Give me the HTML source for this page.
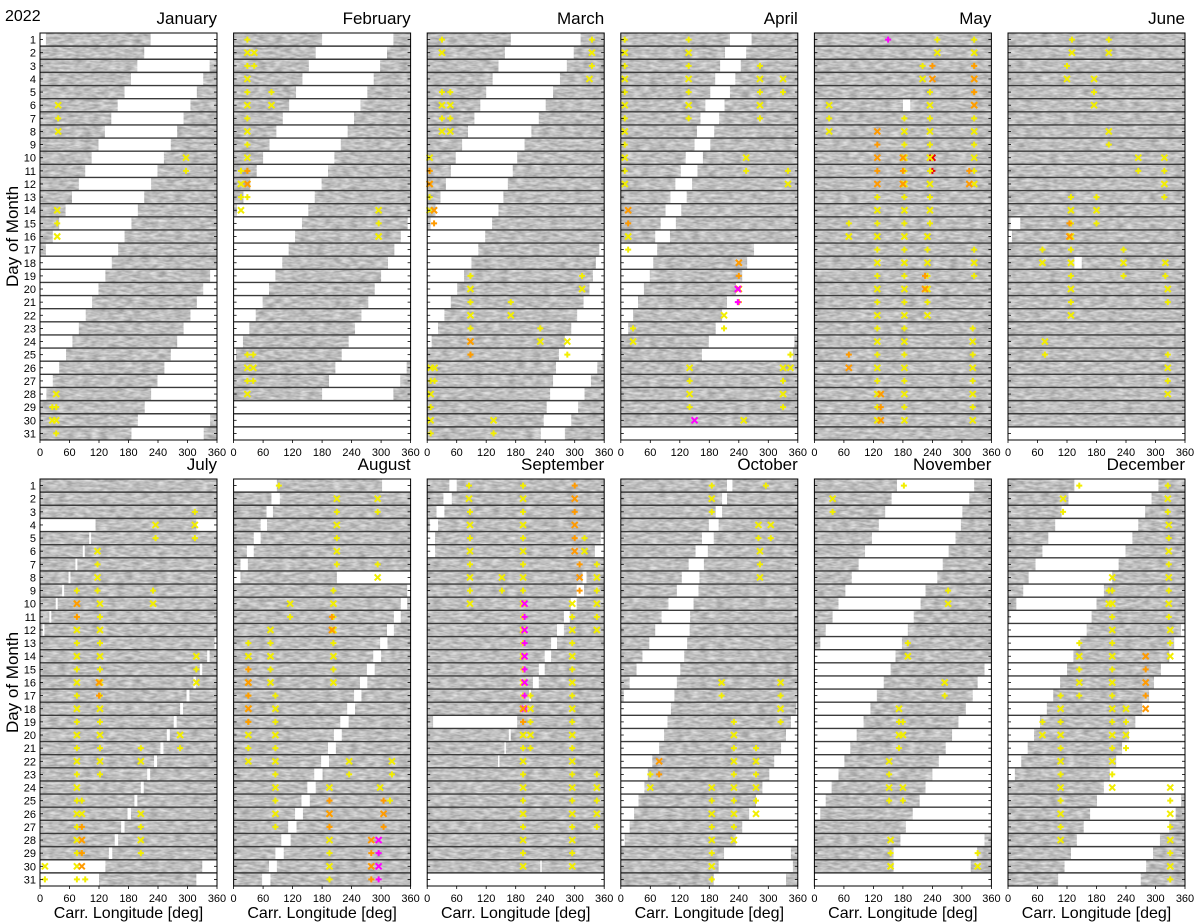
<!DOCTYPE html>
<html><head><meta charset="utf-8"><style>
html,body{margin:0;padding:0;background:#fff;}
svg{display:block;font-family:"Liberation Sans",sans-serif;}
</style></head><body>
<svg id="chart" width="1200" height="923" viewBox="0 0 1200 923" xmlns="http://www.w3.org/2000/svg">
<defs>
<filter id="tex" x="0" y="0" width="100%" height="100%" color-interpolation-filters="sRGB">
<feTurbulence type="fractalNoise" baseFrequency="0.12 0.4" numOctaves="2" seed="3" result="n"/>
<feColorMatrix in="n" type="matrix" values="0.4 0 0 0 0.55  0.4 0 0 0 0.55  0.4 0 0 0 0.55  0 0 0 0 1" result="g"/>
<feComposite in="g" in2="SourceGraphic" operator="in"/>
</filter>
</defs>
<text x="5" y="21" font-size="16">2022</text>
</svg>
<script>
const monthNames=["January","February","March","April","May","June","July","August","September","October","November","December"];
const xTicks=[0,60,120,180,240,300,360];
const N=null;
const janGapStart=[225,212,198,185,172,158,145,132,119,105,92,79,65,52,39,26,12,359,346,332,319,306,292,279,266,253,239,226,213,199,186];
const janGapEnd=[12,359,345,332,319,306,292,279,266,252,239,226,212,199,186,172,159,146,133,119,106,93,79,66,53,39,26,13,360,346,333];
const febGapStart=[180,167,153,140,127,113,100,87,73,60,47,34,20,7,354,340,327,314,300,287,274,260,247,234,220,207,194,180,0,0,0];
const febGapEnd=[325,312,298,285,272,258,245,232,218,205,192,179,165,152,139,125,112,99,85,72,59,45,32,19,5,352,339,325,360,360,360];
const marGapStart=[170,158,145,133,120,108,96,83,71,58,48,38,27,17,7,357,350,343,337,330,318,305,293,280,268,262,256,250,243,237,231];
const marGapEnd=[312,298,284,270,256,241,227,212,198,183,174,164,155,145,132,118,104,90,75,61,48,35,22,9,356,346,333,320,307,293,280];
const aprGapStart=[222,212,202,192,182,172,162,155,150,132,122,111,101,91,81,70,271,257,247,234,216,206,193,179,165,N,N,N,N,N,0];
const aprGapEnd=[266,255,244,233,222,211,200,190,182,167,156,145,134,123,112,100,74,66,59,47,35,25,15,353,350,N,N,N,N,N,360];
const mayGapStart=[N,N,N,N,N,180,N,N,N,N,N,N,N,N,N,N,N,N,N,N,N,N,N,N,N,N,N,N,N,N,N];
const mayGapEnd=[N,N,N,N,N,195,N,N,N,N,N,N,N,N,N,N,N,N,N,N,N,N,N,N,N,N,N,N,N,N,N];
const junGapStart=[N,N,N,N,N,N,N,N,N,N,N,N,N,N,5,0,N,135,N,N,N,N,N,N,N,N,N,N,N,N,0];
const junGapEnd=[N,N,N,N,N,N,N,N,N,N,N,N,N,N,25,8,N,150,N,N,N,N,N,N,N,N,N,N,N,N,360];
const julGapStart=[N,N,N,318,100,87,72,58,45,32,19,5,355,340,325,312,298,285,272,258,245,232,218,205,192,178,165,152,140,330,318];
const julGapEnd=[N,N,N,113,104,91,76,62,49,36,23,9,359,345,330,317,304,291,278,264,251,238,224,211,198,185,172,159,147,133,120];
const augGapStart=[302,77,67,55,41,27,14,210,353,340,326,312,298,284,271,257,245,231,217,204,192,178,164,150,138,125,111,97,85,72,58];
const augGapEnd=[88,94,80,68,55,41,29,14,360,353,340,326,313,300,287,272,260,247,234,220,208,194,181,167,155,141,128,116,102,88,75];
const sepGapStart=[45,33,19,5,353,341,N,316,304,292,278,264,252,239,227,215,207,N,12,166,157,144,N,N,N,N,N,N,N,230,0];
const sepGapEnd=[60,50,35,22,16,16,N,324,319,304,290,278,264,252,239,227,211,N,183,170,160,147,N,N,N,N,N,N,N,233,360];
const octGapStart=[216,206,193,179,165,152,138,124,114,97,83,70,58,44,32,18,6,357,346,336,326,312,302,288,275,261,247,234,210,199,189];
const octGapEnd=[227,216,206,199,189,177,169,160,158,148,141,140,135,129,121,114,109,102,95,88,78,64,55,48,36,27,18,8,346,350,336];
const novGapStart=[168,157,144,131,117,103,90,76,63,49,37,23,12,0,346,332,322,308,293,280,267,253,240,226,214,200,186,175,161,161,0];
const novGapEnd=[325,315,301,298,287,273,261,250,226,216,202,190,178,165,155,141,127,114,100,86,73,61,49,35,23,12,360,346,331,318,360];
const decGapStart=[135,123,109,96,82,70,56,42,31,17,3,352,338,328,311,297,287,273,259,246,232,220,207,195,181,167,154,140,128,115,102];
const decGapEnd=[306,292,279,265,253,239,225,212,195,180,170,160,147,133,120,106,92,79,65,53,40,27,14,360,352,341,328,309,295,281,270];
const gapStarts=[janGapStart,febGapStart,marGapStart,aprGapStart,mayGapStart,junGapStart,julGapStart,augGapStart,sepGapStart,octGapStart,novGapStart,decGapStart];
const gapEnds=[janGapEnd,febGapEnd,marGapEnd,aprGapEnd,mayGapEnd,junGapEnd,julGapEnd,augGapEnd,sepGapEnd,octGapEnd,novGapEnd,decGapEnd];
// feature tracks: [firstDay, lastDay, longitude, colour]
const janTracks=[[6,8,37,'y'],[10,11,297,'y'],[14,16,35,'y'],[28,31,33,'y'],[29,30,25,'y']];
const febTracks=[[1,13,28,'y'],[2,3,42,'y'],[5,6,77,'y'],[11,12,28,'o'],[11,14,15,'y'],[14,16,295,'y'],[25,28,28,'y'],[25,27,40,'y']];
const marTracks=[[1,3,335,'y'],[1,2,30,'y'],[4,4,330,'y'],[5,8,30,'y'],[5,8,47,'y'],[10,14,5,'y'],[11,12,5,'o'],[14,15,14,'o'],[19,25,88,'y'],[24,25,88,'o'],[19,20,315,'y'],[21,22,170,'y'],[23,24,230,'y'],[24,25,285,'y'],[26,31,7,'y'],[26,27,15,'y'],[30,31,135,'y']];
const aprTracks=[[1,12,8,'y'],[14,15,15,'o'],[16,17,15,'y'],[1,7,138,'y'],[3,7,283,'y'],[4,5,330,'y'],[10,11,255,'y'],[11,12,340,'y'],[18,21,240,'o'],[20,21,238,'m'],[22,23,210,'y'],[23,24,25,'y'],[25,26,345,'y'],[26,29,140,'y'],[26,29,330,'y'],[30,30,150,'m'],[30,30,250,'y']];
const mayTracks=[[1,1,150,'m'],[1,2,250,'y'],[3,4,240,'o'],[10,11,240,'r'],[3,4,220,'y'],[5,15,235,'y'],[16,22,230,'y'],[1,12,325,'y'],[3,6,325,'o'],[11,12,315,'o'],[6,8,30,'y'],[8,12,128,'o'],[13,30,128,'y'],[28,30,135,'o'],[7,30,183,'y'],[10,12,180,'o'],[15,16,70,'y'],[25,26,70,'o'],[17,19,325,'y'],[23,30,322,'y'],[19,20,225,'o']];
const junTracks=[[1,2,130,'y'],[1,2,205,'y'],[3,4,120,'y'],[4,6,175,'y'],[8,9,205,'y'],[10,11,265,'y'],[10,13,318,'y'],[13,15,180,'y'],[13,22,128,'y'],[15,16,125,'o'],[17,18,70,'y'],[17,19,235,'y'],[18,19,320,'y'],[20,21,325,'y'],[24,25,75,'y'],[25,28,325,'y']];
const julTracks=[[3,5,315,'y'],[4,5,235,'y'],[6,9,117,'y'],[9,31,75,'y'],[10,11,75,'o'],[10,23,122,'y'],[16,17,120,'o'],[9,10,230,'y'],[14,16,318,'y'],[20,21,285,'y'],[21,22,205,'y'],[25,29,85,'y'],[27,30,85,'o'],[26,29,205,'y'],[31,31,92,'y'],[30,31,10,'y']];
const augTracks=[[1,1,92,'y'],[2,3,293,'y'],[2,7,210,'y'],[7,8,293,'y'],[9,16,203,'y'],[11,12,200,'o'],[10,11,115,'y'],[12,16,75,'y'],[13,22,30,'y'],[15,19,30,'o'],[17,27,85,'y'],[24,31,195,'y'],[25,27,195,'o'],[24,24,298,'y'],[25,27,305,'o'],[25,25,318,'y'],[28,31,295,'m'],[28,31,280,'o'],[22,23,235,'y'],[22,23,322,'y']];
const sepTracks=[[1,30,195,'y'],[10,18,198,'m'],[1,6,300,'o'],[7,9,310,'o'],[10,30,295,'y'],[1,2,85,'y'],[3,10,87,'y'],[7,12,345,'y'],[5,6,320,'y'],[23,27,345,'y'],[17,21,210,'y'],[8,9,152,'y'],[18,19,195,'o']];
const octTracks=[[1,3,185,'y'],[1,1,295,'y'],[4,5,280,'y'],[4,5,305,'y'],[6,8,283,'y'],[16,17,205,'y'],[16,19,325,'y'],[19,26,230,'y'],[21,26,275,'y'],[22,23,78,'o'],[23,24,60,'y'],[24,31,185,'y'],[27,28,230,'y']];
const novTracks=[[1,1,182,'y'],[2,3,37,'y'],[9,10,272,'y'],[13,14,190,'y'],[16,17,265,'y'],[18,21,172,'y'],[19,20,180,'y'],[22,25,152,'y'],[24,25,180,'y'],[28,30,155,'y'],[29,30,332,'y']];
const decTracks=[[1,3,325,'y'],[1,1,145,'y'],[2,3,112,'y'],[4,11,327,'y'],[8,24,212,'y'],[9,10,205,'y'],[12,14,330,'y'],[14,18,280,'o'],[13,17,145,'y'],[17,28,107,'y'],[19,20,70,'y'],[18,21,240,'y'],[24,31,330,'y']];
const allTracks=[janTracks,febTracks,marTracks,aprTracks,mayTracks,junTracks,julTracks,augTracks,sepTracks,octTracks,novTracks,decTracks];

const NS="http://www.w3.org/2000/svg";
const svg=document.getElementById('chart');
const colors={y:'#f2ee00',o:'#ff9a00',m:'#ff00ff',r:'#ee0000'};
const PW=177, colStep=193.6, left0=40;
const rowTop=[33,479], PH=407;
function mk(tag,attrs,parent){const e=document.createElementNS(NS,tag);for(const k in attrs)e.setAttribute(k,attrs[k]);(parent||svg).appendChild(e);return e;}

for(let m=0;m<12;m++){
  const col=m%6,row=Math.floor(m/6);
  const x0=left0+col*colStep, y0=rowTop[row];
  const xs=v=>x0+v/360*PW;
  const rh=PH/31;
  const ys=d=>y0+(d-1)*rh;
  const g=mk('g',{});
  
  
  mk('rect',{x:x0,y:y0,width:PW,height:PH,fill:'#bfbfbf'},g);
  const gray=mk('g',{filter:'url(#tex)'},g);
  mk('rect',{x:x0,y:y0,width:PW,height:PH,fill:'#888'},gray);
  const wg=mk('g',{},g);
  for(let d=1;d<=31;d++){
    const s=gapStarts[m][d-1], e=gapEnds[m][d-1];
    if(s===null)continue;
    const segs = s<e ? [[s,e]] : [[s,360],[0,e]];
    segs.forEach(sg=>{
      const r=mk('rect',{x:xs(sg[0]),y:ys(d),width:Math.max(0,xs(sg[1])-xs(sg[0])),height:rh,fill:'#fff'},wg);
      
      
    });
  }
  for(let d=1;d<31;d++){
    mk('line',{x1:x0,x2:x0+PW,y1:ys(d+1),y2:ys(d+1),stroke:'#3a3a3a','stroke-width':1.4},g);
  }
  const mg=mk('g',{},g);
  allTracks[m].forEach(t=>{
    for(let d=t[0];d<=t[1];d++){
      const cx=xs(t[2]), cy=ys(d)+rh/2, c=colors[t[3]], s=3;
      const p=mk('path',{d:(d%2? `M${cx-s} ${cy}H${cx+s}M${cx} ${cy-s}V${cy+s}` : `M${cx-s} ${cy-s}L${cx+s} ${cy+s}M${cx-s} ${cy+s}L${cx+s} ${cy-s}`),stroke:c,'stroke-width':2,fill:'none'},mg);
      
      
    }
  });
  const fr=mk('rect',{x:x0,y:y0,width:PW,height:PH,fill:'none',stroke:'#000','stroke-width':1},g);
  
  
  for(let d=1;d<=31;d++){
    const cy=ys(d)+rh/2;
    mk('line',{x1:x0,x2:x0+3,y1:cy,y2:cy,stroke:'#000','stroke-width':0.8},g);
    mk('line',{x1:x0+PW-3,x2:x0+PW,y1:cy,y2:cy,stroke:'#000','stroke-width':0.8},g);
    if(col===0){
      const t=mk('text',{x:x0-4,y:cy+4,'font-size':11,'text-anchor':'end',fill:'#000'},g);
      
      
      t.textContent=d;
    }
  }
  xTicks.forEach(v=>{
    const x=xs(v);
    mk('line',{x1:x,x2:x,y1:y0+PH,y2:y0+PH+3,stroke:'#000','stroke-width':0.8},g);
    const t=mk('text',{x:x,y:y0+PH+16,'font-size':11,'text-anchor':'middle',fill:'#000'},g);
    
    
    t.textContent=v;
  });
  const tt=mk('text',{x:x0+PW,y:y0-9,'font-size':17,'text-anchor':'end',fill:'#000'},g);
  
  
  tt.textContent=monthNames[m];
  if(row===1){
    const xl=mk('text',{x:x0+PW/2,y:918,'font-size':16,'text-anchor':'middle',fill:'#000'},g);
    
    
    xl.textContent='Carr. Longitude [deg]';
  }
  if(col===0){
    const cy=y0+PH/2;
    const yl=mk('text',{x:0,y:0,'font-size':17,'text-anchor':'middle',fill:'#000',transform:`translate(18 ${cy}) rotate(-90)`},g);
    
    
    yl.textContent='Day of Month';
  }
}
</script>
</body></html>
